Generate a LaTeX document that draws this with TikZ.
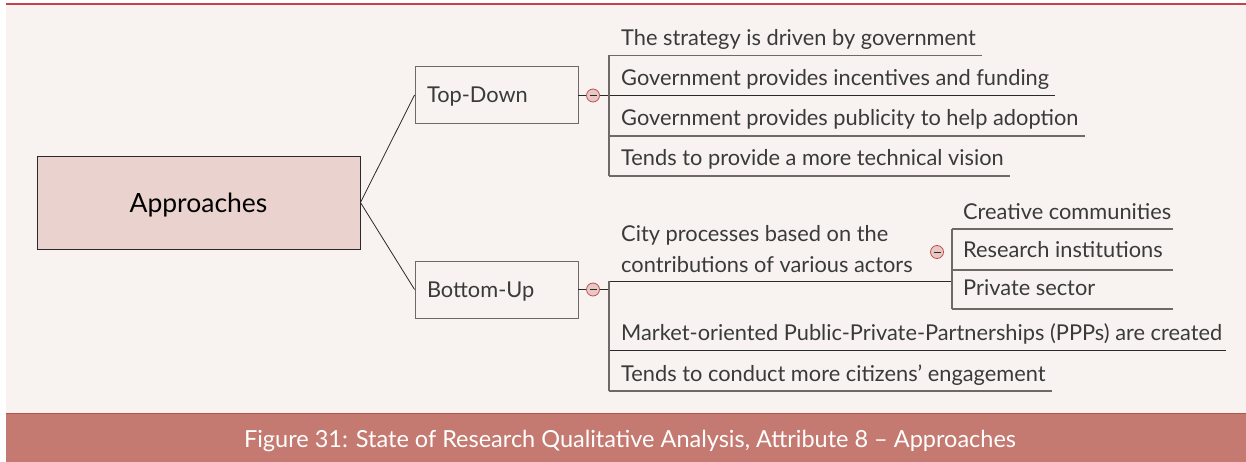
\documentclass[tikz,border=0pt]{standalone}
\usepackage{fontspec}
\setmainfont{Lato}
\definecolor{bgc}{HTML}{F8F3F0}
\definecolor{rootfill}{HTML}{EAD3CE}
\definecolor{capfill}{HTML}{C47A70}
\definecolor{capline}{HTML}{B5524A}
\definecolor{topred}{HTML}{C8404A}
\definecolor{txt}{HTML}{3A3A3A}
\definecolor{lnc}{HTML}{2A2A2A}
\definecolor{ulc}{HTML}{6E6866}
\definecolor{colfill}{HTML}{E8C8C4}
\definecolor{colline}{HTML}{C0504D}
\tikzset{
  rootbox/.style={draw=lnc, line width=0.9pt, fill=rootfill, minimum width=323pt, minimum height=93pt, inner sep=0pt, text depth=0pt, font=\fontsize{26.5}{30}\selectfont, text=black},
  branchbox/.style={draw=ulc, line width=0.9pt, fill=bgc, text width=139pt, align=left, inner xsep=12pt, inner ysep=0pt, minimum height=57pt, text depth=0pt, font=\fontsize{21.8}{26}\selectfont, text=txt},
  itemtext/.style={anchor=base west, inner sep=0pt, font=\fontsize{21.8}{26}\selectfont, text=txt},
  conn/.style={draw=lnc, line width=0.8pt},
  uline/.style={draw=ulc, line width=1.2pt},
  collapse/.style={circle, draw=colline, fill=colfill, line width=0.8pt, minimum size=13pt, inner sep=0pt,
    path picture={\draw[lnc, line width=0.9pt] ([xshift=-3.5pt]path picture bounding box.center) -- ([xshift=3.5pt]path picture bounding box.center);}},
}
\begin{document}
\begin{tikzpicture}[x=1pt,y=-1pt]
\useasboundingbox (0,0) rectangle (1246,462);
\fill[white] (0,0) rectangle (1246,462);
\fill[bgc] (6,4) rectangle (1246,413);
\draw[topred, line width=1.2pt] (6,4) -- (1246,4);
\fill[capfill] (6,413) rectangle (1246,462);
\draw[capline, line width=1pt] (6,413) -- (1246,413);
\node[text=white, inner sep=0pt, text depth=0pt, font=\fontsize{23.5}{28}\selectfont] (caption) at (630,438.5) {Figure 31: State of Research Qualitative Analysis, Attribute 8 – Approaches};

% main nodes
\node[rootbox] (root) at (198.5,202.5) {Approaches};
\node[branchbox] (td) at (496.5,95) {Top-Down};
\node[branchbox] (bu) at (496.5,289.5) {Bottom-Up};
\draw[conn] (root.east) -- (td.west);
\draw[conn] (root.east) -- (bu.west);

% Top-Down branch
\node[collapse] (c1) at (593,95.5) {};
\coordinate (tdtop) at (609,55.5);
\coordinate (tdbot) at (609,176);
\coordinate (tdmid) at (609,95.5);
\draw[conn] (td.east |- c1) -- (c1.west);
\draw[conn] (c1.east) -- (tdmid);
\node[itemtext] (t1) at (621,45.5) {The strategy is driven by government};
\node[itemtext] (t2) at (621,85.5) {Government provides incentives and funding};
\node[itemtext] (t3) at (621,126) {Government provides publicity to help adoption};
\node[itemtext] (t4) at (621,166) {Tends to provide a more technical vision};
\draw[uline] (tdtop) -- ([xshift=6pt]tdtop -| t1.east);
\draw[conn] (tdmid) -- ([xshift=6pt]tdmid -| t2.east);
\draw[uline] (609,136) -- ([xshift=6pt]t3.base east |- 0,136);
\draw[uline] (tdbot) -- ([xshift=6pt]tdbot -| t4.east);
\draw[uline] (tdtop) -- (tdbot);

% Bottom-Up branch
\node[collapse] (c2) at (593,289.5) {};
\coordinate (butop) at (609,281);
\coordinate (bubot) at (609,391);
\coordinate (bumid) at (609,289.5);
\draw[conn] (bu.east) -- (c2.west);
\draw[conn] (c2.east) -- (bumid);
\node[itemtext, align=left, font=\fontsize{21.8}{31}\selectfont] (b1) at (621,272) {City processes based on the\\contributions of various actors};
\coordinate (subjoin) at (952,281);
\coordinate (subtop) at (952,229);
\coordinate (subbot) at (952,309);
\draw[conn] (butop) -- (subjoin);
\draw[uline] (subtop) -- (subbot);
\node[collapse] (c3) at (937,252) {};
\node[itemtext] (s1) at (963,219) {Creative communities};
\node[itemtext] (s2) at (963,257) {Research institutions};
\node[itemtext] (s3) at (963,295) {Private sector};
\coordinate (subend) at ([xshift=2pt]s1.east);
\draw[uline] (subtop) -- (subtop -| subend);
\draw[uline] (952,270) -- (subend |- 0,270);
\draw[uline] (subbot) -- (subbot -| subend);
\node[itemtext] (b2) at (621,340) {Market-oriented Public-Private-Partnerships (PPPs) are created};
\node[itemtext] (b3) at (621,381) {Tends to conduct more citizens’ engagement};
\draw[conn] (609,350) -- ([xshift=4pt]b2.base east |- 0,350);
\draw[uline] (bubot) -- ([xshift=6pt]bubot -| b3.east);
\draw[uline] (butop) -- (bubot);
\end{tikzpicture}
\end{document}
